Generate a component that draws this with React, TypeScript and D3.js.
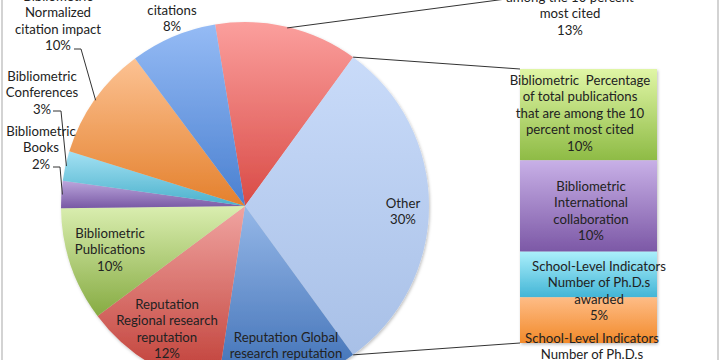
import React from "react";
import * as d3 from "d3";

// ---------- data ----------
const pieCategories = [
  "Bibliometric Percentage of total publications that are among the 10 percent most cited",
  "Other",
  "Reputation Global research reputation",
  "Reputation Regional research reputation",
  "Bibliometric Publications",
  "Bibliometric Books",
  "Bibliometric Conferences",
  "Bibliometric Normalized citation impact",
  "Bibliometric Citations",
];
const pieValues = [12.6, 30, 12.4, 12.4, 10, 2.4, 2.6, 10, 7.6];
const pieLabelLines: string[][] = [
  ["among the 10 percent", "most cited"],
  ["Other"],
  ["Reputation Global", "research reputation"],
  ["Reputation", "Regional research", "reputation"],
  ["Bibliometric", "Publications"],
  ["Bibliometric", "Books"],
  ["Bibliometric", "Conferences"],
  ["Bibliometric", "Normalized", "citation impact"],
  ["citations"],
];

const barCategories = [
  "Bibliometric  Percentage of total publications that are among the 10 percent most cited",
  "Bibliometric International collaboration",
  "School-Level Indicators Number of Ph.D.s awarded",
  "School-Level Indicators Number of Ph.D.s",
];
const barValues = [10, 10, 5, 5];
const barLabelLines: string[][] = [
  ["Bibliometric\u00a0 Percentage", "of total publications", "that are among the 10", "percent most cited"],
  ["Bibliometric", "International", "collaboration"],
  ["School-Level Indicators", "Number of Ph.D.s", "awarded"],
  ["School-Level Indicators", "Number of Ph.D.s"],
];

// ---------- styles / layout ----------
const W = 720, H = 360;
const cx = 245, cy = 206, R = 184;
const pieGrad = [
  ["#FB9F9D", "#D94B46"],
  ["#C9DBF9", "#A8C0E7"],
  ["#96B8E8", "#3A6CB3"],
  ["#F0A4A1", "#BE3A32"],
  ["#DAEEB0", "#86AB42"],
  ["#BCA7DD", "#7858A4"],
  ["#A4E1F3", "#4AB1CC"],
  ["#FCC293", "#E4802C"],
  ["#95BBF5", "#4A80D0"],
];
const barGrad = [
  ["#E0F6A6", "#8EBB45"],
  ["#C8B0E7", "#7C58A6"],
  ["#ABEFFB", "#42B5D6"],
  ["#FEBC86", "#F28A2A"],
];
// label anchors: [x, y of first line]
const pieLabelPos: [number, number][] = [
  [570, -3],
  [403, 203],
  [286, 337],
  [167, 304],
  [110, 233],
  [41, 131],
  [42, 76],
  [58, -4],
  [172, 10],
];
const showPct = [true, true, false, true, true, true, true, true, true];
const barLabelPos: [number, number][] = [
  [580, 80],
  [591, 186],
  [599, 266],
  [592, 338],
];
const showBarPct = [true, true, true, false];
// leader lines: label-side points (end, elbow)
const leaders: { i: number; pts: [number, number][] }[] = [
  { i: 0, pts: [[506, -1]] },
  { i: 7, pts: [[74, 49], [81, 49]] },
  { i: 6, pts: [[53, 111], [61, 111]] },
  { i: 5, pts: [[53, 167], [60, 167]] },
];
const LH = 16.4;
const font = "Lato, 'Open Sans', sans-serif";
const textColor = "#222";

export default function App() {
  const total = d3.sum(pieValues);
  const angScale = d3.scaleLinear().domain([0, total]).range([0, 2 * Math.PI]);
  // Other slice centred on the right (90deg)
  const start = Math.PI / 2 - angScale(pieValues[0] + pieValues[1] / 2);
  const pie = d3.pie<number>().sort(null).startAngle(start).endAngle(start + 2 * Math.PI);
  const arcs = pie(pieValues);
  const arc = d3.arc<d3.PieArcDatum<number>>().innerRadius(0).outerRadius(R);
  const polar = (a: number, r: number): [number, number] => [cx + r * Math.sin(a), cy - r * Math.cos(a)];

  const barX0 = 520, barX1 = 657;
  const barTotal = d3.sum(barValues);
  const y = d3.scaleLinear().domain([0, barTotal]).range([69, 343]);
  const cum = d3.cumsum(barValues);

  const otherArc = arcs[1];
  const c1 = polar(otherArc.startAngle, R);
  const c2 = polar(otherArc.endAngle, R);

  const fmt = (v: number) => `${Math.round(v)}%`;

  return (
    <svg width={W} height={H} style={{ position: "absolute", left: 0, top: 0, background: "#fff" }}
      fontFamily={font} fontSize={13.2}>
      <defs>
        {pieGrad.map((g, i) => (
          <linearGradient key={i} id={`pg${i}`} x1="0" y1="0" x2="0" y2="1">
            <stop offset="0" stopColor={g[0]} />
            <stop offset="1" stopColor={g[1]} />
          </linearGradient>
        ))}
        {barGrad.map((g, i) => (
          <linearGradient key={i} id={`bg${i}`} x1="0" y1="0" x2="0" y2="1">
            <stop offset="0" stopColor={g[0]} />
            <stop offset="1" stopColor={g[1]} />
          </linearGradient>
        ))}
        <filter id="sh" x="-10%" y="-10%" width="120%" height="120%">
          <feDropShadow dx="1" dy="1.5" stdDeviation="1.5" floodColor="#000" floodOpacity="0.25" />
        </filter>
      </defs>
      <rect x={0} y={0} width={W} height={H} fill="#fff" />
      <line x1={2} y1={0} x2={2} y2={H} stroke="#c4c4c4" strokeWidth={1.5} />
      <line x1={718} y1={0} x2={718} y2={H} stroke="#c4c4c4" strokeWidth={1.5} />

      {/* pie */}
      <g transform={`translate(${cx},${cy})`} filter="url(#sh)">
        {arcs.map((a, i) => (
          <path key={pieCategories[i]} d={arc(a) || ""} fill={`url(#pg${i})`} />
        ))}
      </g>

      {/* bar */}
      <g filter="url(#sh)">
        {barValues.map((v, i) => (
          <rect key={barCategories[i]} x={barX0} width={barX1 - barX0}
            y={y(cum[i] - v)} height={y(cum[i]) - y(cum[i] - v)} fill={`url(#bg${i})`} />
        ))}
      </g>

      {/* connector lines */}
      <line x1={c1[0]} y1={c1[1]} x2={barX0} y2={y(0)} stroke="#333" strokeWidth={1} />
      <line x1={c2[0]} y1={c2[1]} x2={barX0} y2={y(barTotal)} stroke="#333" strokeWidth={1} />

      {/* leader lines */}
      {leaders.map(({ i, pts }) => {
        const a = arcs[i];
        const mid = (a.startAngle + a.endAngle) / 2;
        const p = polar(mid, R - 1);
        const all = [...pts, p];
        return <path key={i} d={d3.line()(all) || ""} fill="none" stroke="#333" strokeWidth={1} />;
      })}

      {/* pie labels */}
      {arcs.map((a, i) => {
        const lines = [...pieLabelLines[i]];
        if (showPct[i]) lines.push(fmt((pieValues[i] / total) * 100));
        const [lx, ly] = pieLabelPos[i];
        return (
          <text key={i} textAnchor="middle" fill={textColor}>
            {lines.map((l, k) => (
              <tspan key={k} x={lx} y={ly + k * LH} dominantBaseline="central">{l}</tspan>
            ))}
          </text>
        );
      })}

      {/* bar labels */}
      {barValues.map((v, i) => {
        const lines = [...barLabelLines[i]];
        if (showBarPct[i]) lines.push(fmt(v));
        const [lx, ly] = barLabelPos[i];
        return (
          <text key={i} textAnchor="middle" fill={textColor}>
            {lines.map((l, k) => (
              <tspan key={k} x={lx} y={ly + k * LH} dominantBaseline="central">{l}</tspan>
            ))}
          </text>
        );
      })}
    </svg>
  );
}
